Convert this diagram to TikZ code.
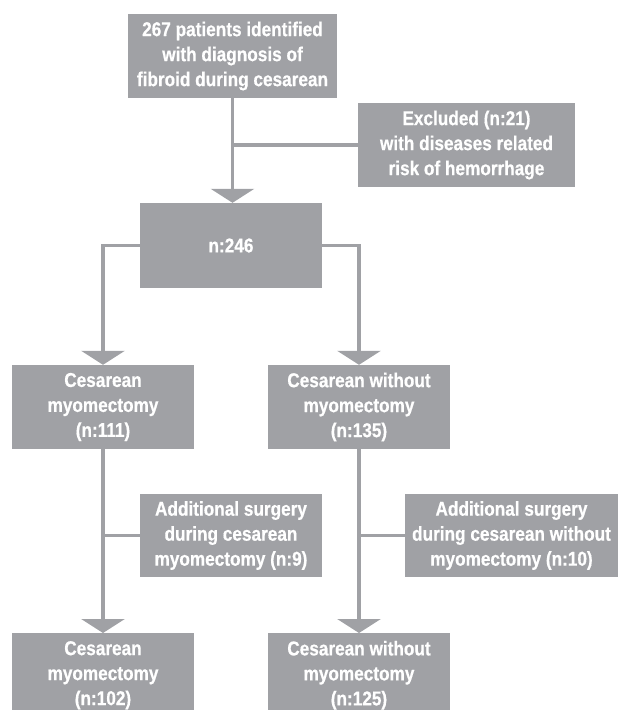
\documentclass[tikz,border=0pt]{standalone}
\usepackage{fontspec}
\setmainfont{Liberation Sans}[BoldFont={Liberation Sans Bold},BoldFeatures={FakeBold=0.6},FakeStretch=0.86]
\usetikzlibrary{arrows.meta}
\definecolor{boxgray}{RGB}{160,161,165}
\begin{document}
\begin{tikzpicture}[x=1pt,y=-1pt,
    box/.style={fill=boxgray,text=white,align=center,inner sep=0pt,
      font=\fontsize{20pt}{25pt}\selectfont\bfseries},
    link/.style={draw=boxgray,line width=3.5pt},
    arr/.style={link,-{Triangle[width=43pt,length=14pt]}}]
      \clip (0,0) rectangle (618,710);
      \node[box,minimum width=209pt,minimum height=84pt] (start) at (232.5,56) {267 patients identified\\with diagnosis of\\fibroid during cesarean};
      \node[box,minimum width=217pt,minimum height=84pt] (excl) at (466.5,145) {Excluded (n:21)\\with diseases related\\risk of hemorrhage};
      \node[box,minimum width=182pt,minimum height=85pt] (total) at (231,245.5) {n:246};
      \node[box,minimum width=182pt,minimum height=84pt] (myo) at (103,407) {Cesarean\\myomectomy\\(n:111)};
      \node[box,minimum width=182pt,minimum height=84pt] (nomyo) at (359,407) {Cesarean without\\myomectomy\\(n:135)};
      \node[box,minimum width=182pt,minimum height=83pt] (addmyo) at (231,535.5) {Additional surgery\\during cesarean\\myomectomy (n:9)};
      \node[box,minimum width=213pt,minimum height=83pt] (addnomyo) at (511.5,535.5) {Additional surgery\\during cesarean without\\myomectomy (n:10)};
      \node[box,minimum width=182pt,minimum height=84pt,anchor=north] (myoend) at (103,633) {Cesarean\\myomectomy\\(n:102)};
      \node[box,minimum width=182pt,minimum height=84pt,anchor=north] (nomyoend) at (359,633) {Cesarean without\\myomectomy\\(n:125)};
      \draw[arr] (start.south) -- (start.south |- total.north);
      \draw[link] (excl.west) -- (excl.west -| start.south);
      \draw[arr] (total.west) -| (myo.north);
      \draw[arr] (total.east) -| (nomyo.north);
      \draw[arr] (myo) -- (myoend);
      \draw[link] (addmyo.west) -- (addmyo.west -| myo.south);
      \draw[arr] (nomyo) -- (nomyoend);
      \draw[link] (addnomyo.west) -- (addnomyo.west -| nomyo.south);
\end{tikzpicture}
\end{document}
